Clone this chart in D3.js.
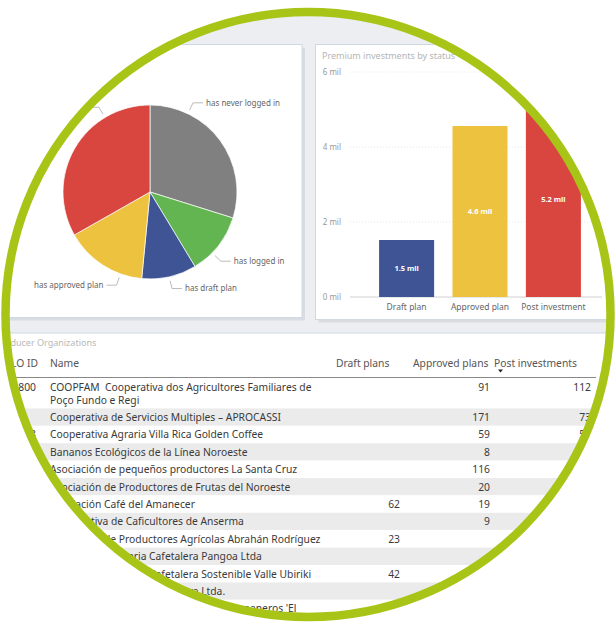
<!DOCTYPE html>
<html>
<head>
<meta charset="utf-8">
<script src="https://cdn.jsdelivr.net/npm/d3@7"></script>
<style>
body { margin: 0; background: #fff; }
svg { display: block; font-family: "Noto Sans", "Open Sans", sans-serif; }
</style>
</head>
<body>
<svg></svg>
<script>
// pie: producer organisations by status
var pieLabels = ["has never logged in", "has logged in", "has draft plan", "has approved plan", "has post investment"]
var pieValues = [88, 34, 30, 45, 98]
var pieColors = ["#808080", "#63b552", "#3e5494", "#ecc23e", "#d8463f"]
var pieLabelSpot = [0.24, 0.65, 0.5, 0.26, 0.74] // where on the slice the leader starts

// bars: premium investments by status (mil)
var barCategories = ["Draft plan", "Approved plan", "Post investment"]
var barValues = [1.52, 4.56, 5.2]
var barTexts = ["1.5 mil", "4.6 mil", "5.2 mil"]
var barColors = ["#3e5494", "#ecc23e", "#d8463f"]
var yTicks = [0, 2, 4, 6]

// table
var tableHeaders = ["FLO ID", "Name", "Draft plans", "Approved plans", "Post investments", "Average"]
var orgIds = ["3800", "", "4208", "", "", "", "", "", "", "", "", "", ""]
var orgNames = [
  "COOPFAM  Cooperativa dos Agricultores Familiares de Poço Fundo e Regi",
  "Cooperativa de Servicios Multiples – APROCASSI",
  "Cooperativa Agraria Villa Rica Golden Coffee",
  "Bananos Ecológicos de la Línea Noroeste",
  "Asociación de pequeños productores La Santa Cruz",
  "Asociación de Productores de Frutas del Noroeste",
  "Asociación Café del Amanecer",
  "Cooperativa de Caficultores de Anserma",
  "Asociación de Productores Agrícolas Abrahán Rodríguez",
  "Cooperativa Agraria Cafetalera Pangoa Ltda",
  "Cooperativa Agraria Cafetalera Sostenible Valle Ubiriki",
  "Cooperativa Agraria Cafetalera Ltda.",
  "Asociación de Pequeños Productores Bananeros 'El Guabo'"
]
var draftPlans = [null, null, null, null, null, null, 62, null, 23, null, 42, null, null]
var approvedPlans = [91, 171, 59, 8, 116, 20, 19, 9, null, null, null, null, null]
var postInvestments = [112, 73, 55, 5, null, null, null, null, null, null, null, null, null]

var svg = d3.select("svg")
    .attr("width", 615)
    .attr("height", 622)

var cx = 308, cy = 314.5, ringR = 302

svg.append("clipPath").attr("id", "lens")
    .append("circle").attr("cx", cx).attr("cy", cy).attr("r", ringR)

var board = svg.append("g").attr("clip-path", "url(#lens)")

// dashboard background + panels
board.append("rect").attr("x", 0).attr("y", 0).attr("width", 615).attr("height", 622).attr("fill", "#eceef1")

function panel(x, y, w, h) {
    board.append("rect").attr("x", x + 3).attr("y", y + 3).attr("width", w).attr("height", h)
        .attr("fill", "#d9dce1")
    board.append("rect").attr("x", x).attr("y", y).attr("width", w).attr("height", h)
        .attr("fill", "#fff").attr("stroke", "#cfd9e4").attr("stroke-width", 1)
}
panel(-20, 44.5, 322, 273)
panel(315.5, 44.5, 330, 275)
panel(-20, 333, 660, 320)

// ---- pie ----
var pieG = board.append("g").attr("transform", "translate(150,192)")
var pieR = 87
var pie = d3.pie().sort(null).value(d => d)
var arcPath = d3.arc().innerRadius(0).outerRadius(pieR)
var angles = pie(pieValues)

pieG.selectAll("path").data(angles).enter().append("path")
    .attr("d", arcPath)
    .attr("fill", (d, i) => pieColors[i])
    .attr("stroke", "#fff")
    .attr("stroke-width", 0.7)

angles.forEach(function (d, i) {
    var a = d.startAngle + (d.endAngle - d.startAngle) * pieLabelSpot[i]
    var right = Math.sin(a) >= 0
    var p0 = [Math.sin(a) * (pieR + 4), -Math.cos(a) * (pieR + 4)]
    var p1 = [Math.sin(a) * (pieR + 12), -Math.cos(a) * (pieR + 12)]
    var p2 = [p1[0] + (right ? 10 : -10), p1[1]]
    pieG.append("polyline")
        .attr("points", [p0, p1, p2].map(p => p.join(",")).join(" "))
        .attr("fill", "none").attr("stroke", "#aaa").attr("stroke-width", 0.8)
    pieG.append("text")
        .attr("x", p2[0] + (right ? 3 : -3)).attr("y", p2[1])
        .attr("dy", "0.35em")
        .attr("text-anchor", right ? "start" : "end")
        .attr("font-size", 8).attr("fill", "#666")
        .text(pieLabels[i])
})

// ---- bars ----
board.append("text").attr("x", 322).attr("y", 59)
    .attr("font-size", 9).attr("fill", "#b5b5b5")
    .text("Premium investments by status")

var x = d3.scaleBand().domain(barCategories).range([360, 600]).paddingInner(0.25).paddingOuter(0.26)
var y = d3.scaleLinear().domain([0, 6]).range([297, 72])

var grid = board.append("g")
grid.selectAll("line").data(yTicks).enter().append("line")
    .attr("x1", 350).attr("x2", 602)
    .attr("y1", d => y(d)).attr("y2", d => y(d))
    .attr("stroke", d => d === 0 ? "#d0d0d0" : "#e6e6e6")
    .attr("stroke-dasharray", d => d === 0 ? null : "1,2")
grid.selectAll("text").data(yTicks).enter().append("text")
    .attr("x", 341).attr("y", d => y(d)).attr("dy", "0.35em")
    .attr("text-anchor", "end").attr("font-size", 8).attr("fill", "#999")
    .text(d => d + " mil")

var bars = board.append("g")
bars.selectAll("rect").data(barValues).enter().append("rect")
    .attr("x", (d, i) => x(barCategories[i]))
    .attr("y", d => y(d))
    .attr("width", x.bandwidth())
    .attr("height", d => y(0) - y(d))
    .attr("fill", (d, i) => barColors[i])
bars.selectAll("text.val").data(barValues).enter().append("text")
    .attr("class", "val")
    .attr("x", (d, i) => x(barCategories[i]) + x.bandwidth() / 2)
    .attr("y", d => (y(d) + y(0)) / 2).attr("dy", "0.35em")
    .attr("text-anchor", "middle").attr("font-size", 7.5).attr("font-weight", "bold").attr("fill", "#fff")
    .text((d, i) => barTexts[i])
bars.selectAll("text.cat").data(barCategories).enter().append("text")
    .attr("class", "cat")
    .attr("x", d => x(d) + x.bandwidth() / 2).attr("y", 307).attr("dy", "0.35em")
    .attr("text-anchor", "middle").attr("font-size", 8.5).attr("fill", "#666")
    .text(d => d)

// ---- table ----
var tbl = board.append("g").attr("font-size", 10.3).attr("fill", "#3a3a3a")
tbl.append("text").attr("x", -4).attr("y", 346)
    .attr("font-size", 9).attr("fill", "#b8b8b8").text("Producer Organizations")

var headX = [38, 50, 336, 413, 494, 604]
tbl.selectAll("text.head").data(tableHeaders).enter().append("text")
    .attr("class", "head")
    .attr("x", (d, i) => headX[i]).attr("y", 363).attr("dy", "0.35em")
    .attr("text-anchor", (d, i) => i === 0 ? "end" : "start")
    .attr("fill", "#555").text(d => d)
tbl.append("path").attr("d", "M498,369.5 l5,0 l-2.5,3 z").attr("fill", "#222")
tbl.append("line").attr("x1", -10).attr("x2", 596).attr("y1", 377.5).attr("y2", 377.5)
    .attr("stroke", "#888").attr("stroke-width", 1)

var rowTop = 378, rowH = 17.4, lineH = 13, nameWidth = 283
var numRight = [400, 490, 591]
orgNames.forEach(function (name, i) {
    var g = tbl.append("g")
    var bg = g.append("rect").attr("x", -10).attr("y", rowTop).attr("width", 606)
        .attr("fill", i % 2 ? "#ebebeb" : "#fff")
    var t = g.append("text").attr("x", 50).attr("y", rowTop + 9).attr("dy", "0.35em")
        .style("white-space", "pre")
    // word wrap the name column
    var words = name.split(" "), line = [], lines = 1
    var span = t.append("tspan").attr("x", 50)
    words.forEach(function (w) {
        line.push(w)
        span.text(line.join(" "))
        if (span.node().getComputedTextLength() > nameWidth && line.length > 1) {
            line.pop()
            span.text(line.join(" "))
            line = [w]
            span = t.append("tspan").attr("x", 50).attr("dy", lineH).text(w)
            lines++
        }
    })
    g.append("text").attr("x", 36).attr("y", rowTop + 9).attr("dy", "0.35em")
        .attr("text-anchor", "end").text(orgIds[i])
    ;[draftPlans[i], approvedPlans[i], postInvestments[i]].forEach(function (v, k) {
        if (v == null) return
        g.append("text").attr("x", numRight[k]).attr("y", rowTop + 9).attr("dy", "0.35em")
            .attr("text-anchor", "end").text(v)
    })
    var h = rowH + (lines - 1) * lineH
    bg.attr("height", h)
    rowTop += h
})

// green lens ring
svg.append("circle").attr("cx", cx).attr("cy", cy).attr("r", ringR + 0.5)
    .attr("fill", "none").attr("stroke", "#a8c517").attr("stroke-width", 8.5)
</script>
</body>
</html>
